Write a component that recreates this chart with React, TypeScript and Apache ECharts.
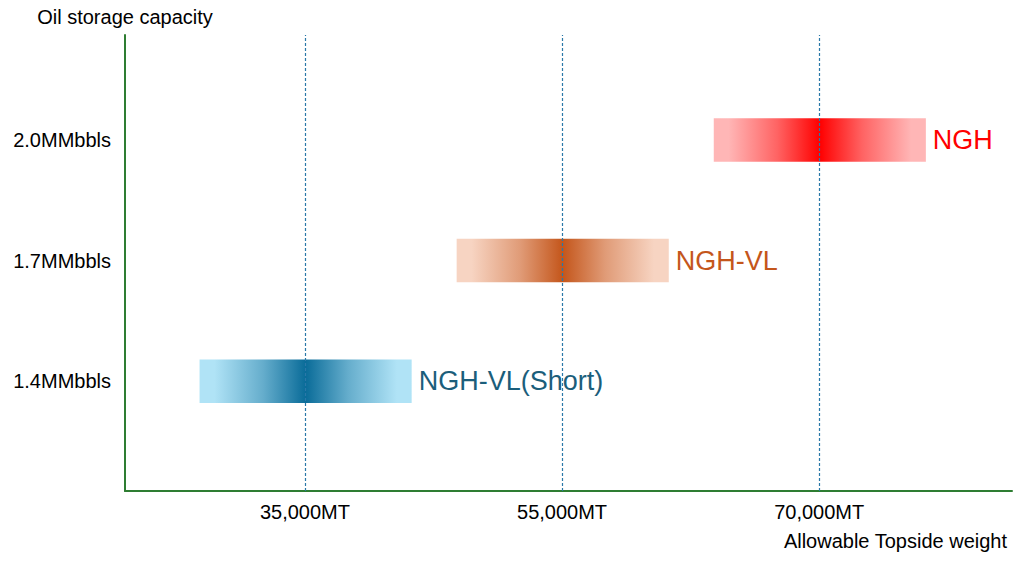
import React, { useEffect, useRef } from "react";
import * as echarts from "echarts";

// Tick labels (positions 1, 2, 3 on each axis)
const weightLabels = ["35,000MT", "55,000MT", "70,000MT"];
const capacityLabels = ["1.4MMbbls", "1.7MMbbls", "2.0MMbbls"];
const tickPositions = [1, 2, 3];

// Products: range along the weight axis (in tick units) and capacity level
const productNames = ["NGH-VL(Short)", "NGH-VL", "NGH"];
const rangeStart = [0.59, 1.59, 2.59];
const rangeEnd = [1.415, 2.415, 3.415];
const capacityLevel = [1, 2, 3];

const endColors = ["#b0e3f6", "#f7d4c2", "#ffb6b6"];
const midColors = ["#65adcc", "#e09b77", "#ff6363"];
const centerColors = ["#0a6c99", "#c4561b", "#ff0000"];
const labelColors = ["#1b5e7b", "#c4561b", "#ff0000"];

const FONT = "'Liberation Sans', Arial, sans-serif";
const BAR_HEIGHT = 0.36; // in capacity units

export default function App() {
  const ref = useRef<HTMLDivElement>(null);
  useEffect(() => {
    document.body.style.margin = "0";
    if (!ref.current) return;
    const chart = echarts.init(ref.current, undefined, { renderer: "svg" });

    const productSeries = productNames.map((name, i) => ({
      type: "custom",
      name,
      z: 2,
      data: [[rangeStart[i], rangeEnd[i], capacityLevel[i]]],
      renderItem: (_params: any, api: any) => {
        const s = api.coord([api.value(0), api.value(2)]);
        const e = api.coord([api.value(1), api.value(2)]);
        const h = api.size([0, BAR_HEIGHT])[1];
        return {
          type: "group",
          children: [
            {
              type: "rect",
              shape: { x: s[0], y: s[1] - h / 2, width: e[0] - s[0], height: h },
              style: {
                fill: new echarts.graphic.LinearGradient(0, 0, 1, 0, [
                  { offset: 0, color: endColors[i] },
                  { offset: 0.07, color: endColors[i] },
                  { offset: 0.3, color: midColors[i] },
                  { offset: 0.5, color: centerColors[i] },
                  { offset: 0.7, color: midColors[i] },
                  { offset: 0.93, color: endColors[i] },
                  { offset: 1, color: endColors[i] },
                ]),
              },
            },
            {
              type: "text",
              x: e[0] + 7,
              y: s[1],
              style: {
                text: name,
                fill: labelColors[i],
                font: `27px ${FONT}`,
                verticalAlign: "middle",
                align: "left",
              },
            },
          ],
        };
      },
    }));

    const option: any = {
      animation: false,
      backgroundColor: "#ffffff",
      grid: { left: 125, right: 8, top: 35, bottom: 74 },
      xAxis: {
        type: "value",
        min: 0.3,
        max: 3.75,
        name: "Allowable Topside weight",
        nameLocation: "end",
        nameGap: -5,
        nameTextStyle: {
          fontFamily: FONT,
          fontSize: 20,
          color: "#000",
          align: "right",
          verticalAlign: "top",
          padding: [40, 0, 0, 0],
        },
        axisLine: { show: true, lineStyle: { color: "#2e7d32", width: 2 } },
        axisTick: { show: false },
        splitLine: { show: false },
        axisLabel: {
          customValues: tickPositions,
          margin: 11,
          fontFamily: FONT,
          fontSize: 20,
          color: "#000",
          formatter: (v: number) => weightLabels[tickPositions.indexOf(Math.round(v))] ?? "",
        },
      },
      yAxis: {
        type: "value",
        min: 0.09,
        max: 3.87,
        name: "Oil storage capacity",
        nameLocation: "end",
        nameGap: 8,
        nameTextStyle: { fontFamily: FONT, fontSize: 20, color: "#000" },
        axisLine: { show: true, lineStyle: { color: "#2e7d32", width: 2 } },
        axisTick: { show: false },
        splitLine: { show: false },
        axisLabel: {
          customValues: tickPositions,
          margin: 14,
          fontFamily: FONT,
          fontSize: 20,
          color: "#000",
          formatter: (v: number) => capacityLabels[tickPositions.indexOf(Math.round(v))] ?? "",
        },
      },
      series: [
        ...productSeries,
        {
          type: "line",
          data: [],
          z: 5,
          silent: true,
          markLine: {
            silent: true,
            symbol: "none",
            label: { show: false },
            lineStyle: { color: "#2a78a8", type: [3, 2], width: 1.2 },
            data: tickPositions.map((p) => ({ xAxis: p })),
          },
        },
      ],
    };
    chart.setOption(option);
    return () => chart.dispose();
  }, []);
  return <div ref={ref} style={{ width: 1020, height: 565 }} />;
}
